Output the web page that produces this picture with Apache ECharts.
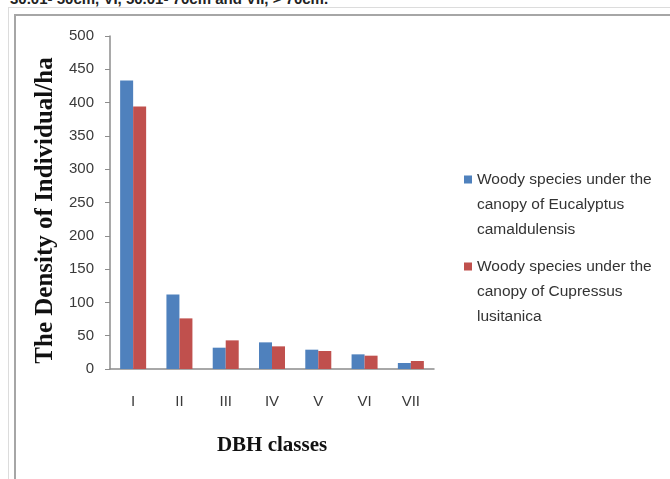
<!DOCTYPE html>
<html>
<head>
<meta charset="utf-8">
<script src="https://cdn.jsdelivr.net/npm/echarts@6/dist/echarts.min.js"></script>
<style>
    html, body { margin: 0; padding: 0; background: #fff; }
    #wrap { position: relative; width: 670px; height: 479px; overflow: hidden; }
    #caption { position: absolute; left: 10px; top: -10px; font: bold 15px "Liberation Sans", sans-serif; color: #222; white-space: nowrap; }
    #outer { position: absolute; left: 8px; top: 7px; right: -10px; bottom: -10px; border-left: 1px solid #dcdcdc; border-top: 1px solid #dcdcdc; }
    #frame { position: absolute; left: 14px; top: 14px; right: -10px; bottom: -10px; border-left: 2px solid #a6a6a6; border-top: 2px solid #a6a6a6; }
    #main { position: absolute; left: 0; top: 0; width: 670px; height: 479px; }
</style>
</head>
<body>
<div id="wrap">
    <div id="caption">30.01- 50cm, VI, 50.01- 70cm and VII, &gt; 70cm.</div>
    <div id="outer"></div>
    <div id="frame"></div>
    <div id="main"></div>
</div>
<script>
    // DBH classes
    let categories = ['I', 'II', 'III', 'IV', 'V', 'VI', 'VII'];
    // density (individuals/ha)
    let eucalyptus = [433, 112, 32, 40, 29, 22, 9];
    let cupressus = [394, 76, 43, 34, 27, 20, 12];
    let seriesNames = [
        'Woody species under the\ncanopy of Eucalyptus\ncamaldulensis',
        'Woody species under the\ncanopy of Cupressus\nlusitanica'
    ];

    let labelFont = '"Liberation Sans", Arial, sans-serif';
    let titleFont = '"Liberation Serif", "Times New Roman", serif';

    let myChart = echarts.init(document.getElementById('main'), null, {renderer: 'canvas'});
    myChart.setOption({
        animation: false,
        grid: {
            left: 110,
            top: 36,
            right: 236,
            bottom: 110
        },
        legend: {
            orient: 'vertical',
            left: 464,
            top: 167,
            padding: 0,
            itemGap: 12,
            itemWidth: 8,
            itemHeight: 75,
            // small square at the first text line, tiny anchors keep the box height
            icon: 'path://M0,0h0.05v0.05h-0.05Z M0,8.5h8v8h-8Z M7.95,74.95h0.05v0.05h-0.05Z',
            textStyle: {
                fontFamily: labelFont,
                fontSize: 15.5,
                lineHeight: 25,
                color: '#333'
            },
            data: seriesNames
        },
        xAxis: {
            type: 'category',
            data: categories,
            name: 'DBH classes',
            nameLocation: 'middle',
            nameGap: 66,
            nameTextStyle: {
                fontFamily: titleFont,
                fontWeight: 'bold',
                fontSize: 21,
                color: '#111'
            },
            axisLine: {lineStyle: {color: '#8c8c8c', width: 1.5}},
            axisTick: {show: false},
            axisLabel: {
                margin: 25,
                fontFamily: labelFont,
                fontSize: 15,
                color: '#3a3a3a'
            }
        },
        yAxis: {
            type: 'value',
            min: 0,
            max: 500,
            interval: 50,
            name: 'The Density of Individual/ha',
            nameLocation: 'middle',
            nameGap: 52,
            nameTextStyle: {
                fontFamily: titleFont,
                fontWeight: 'bold',
                fontSize: 25,
                color: '#111',
                padding: [0, 16, 0, 0]
            },
            splitLine: {show: false},
            axisLine: {show: true, lineStyle: {color: '#8c8c8c', width: 1.5}},
            axisTick: {show: true, length: 5, lineStyle: {color: '#8c8c8c'}},
            axisLabel: {
                margin: 16,
                fontFamily: labelFont,
                fontSize: 15,
                color: '#3a3a3a'
            }
        },
        series: [
            {
                name: seriesNames[0],
                type: 'bar',
                data: eucalyptus,
                barWidth: 13,
                barGap: '0%',
                itemStyle: {color: '#4f81bd'}
            },
            {
                name: seriesNames[1],
                type: 'bar',
                data: cupressus,
                barWidth: 13,
                barGap: '0%',
                itemStyle: {color: '#c0504d'}
            }
        ]
    });
</script>
</body>
</html>
